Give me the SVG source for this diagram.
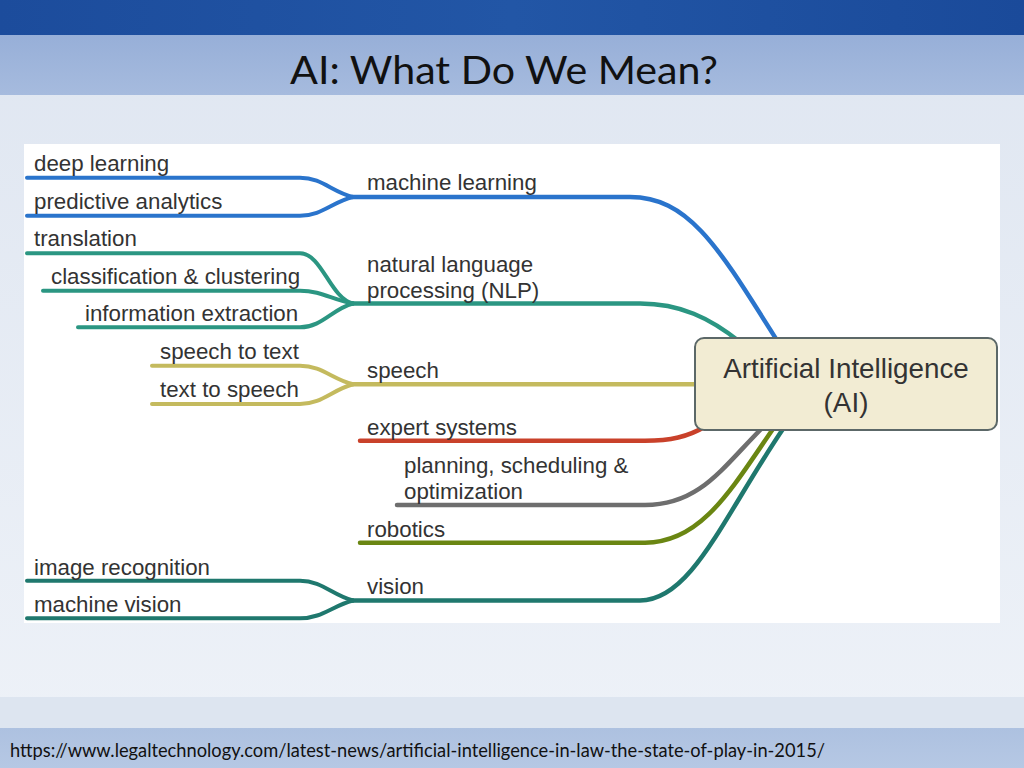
<svg xmlns="http://www.w3.org/2000/svg" width="1024" height="768" viewBox="0 0 1024 768">
<defs>
<linearGradient id="bodyBg" x1="0" y1="0" x2="0" y2="1">
<stop offset="0" stop-color="#dfe6f1"/>
<stop offset="1" stop-color="#eef2f8"/>
</linearGradient>
<linearGradient id="topBand" x1="0" y1="0" x2="1" y2="0">
<stop offset="0" stop-color="#1c4c9c"/>
<stop offset="0.5" stop-color="#2256a6"/>
<stop offset="1" stop-color="#1a4a9a"/>
</linearGradient>
<linearGradient id="titleBand" x1="0" y1="0" x2="0" y2="1">
<stop offset="0" stop-color="#97afd8"/>
<stop offset="1" stop-color="#a6bbde"/>
</linearGradient>
<linearGradient id="footBand" x1="0" y1="0" x2="0" y2="1">
<stop offset="0" stop-color="#adc1e0"/>
<stop offset="1" stop-color="#b6c8e4"/>
</linearGradient>
</defs>
<style>
.lbl{font-family:"Liberation Sans",Arial,sans-serif;font-size:22.3px;fill:#333333}
.ai{font-family:"Liberation Sans",Arial,sans-serif;font-size:27.8px;fill:#333333;text-anchor:middle}
.ln{fill:none;stroke-linecap:round;stroke-linejoin:round;stroke-width:4}
.mn{stroke-width:4.5}
.ml{stroke:#2a74cc}
.nlp{stroke:#2b9682}
.sp{stroke:#c4ba5e}
.ex{stroke:#c9412a}
.pl{stroke:#6e6e6e}
.rb{stroke:#6a8612}
.vs{stroke:#1f786e}
</style>
<rect x="0" y="0" width="1024" height="768" fill="url(#bodyBg)"/>
<rect x="0" y="0" width="1024" height="35" fill="url(#topBand)"/>
<rect x="0" y="35" width="1024" height="60" fill="url(#titleBand)"/>
<rect x="0" y="697" width="1024" height="31" fill="#dde5f0"/>
<rect x="0" y="728" width="1024" height="40" fill="url(#footBand)"/>
<text x="290" y="84" textLength="428" lengthAdjust="spacingAndGlyphs" font-family="Lato,'Open Sans',sans-serif" font-size="39" fill="#111111">AI: What Do We Mean?</text>
<text x="10" y="757" textLength="815" lengthAdjust="spacingAndGlyphs" font-family="Lato,'Open Sans',sans-serif" font-size="19.5" fill="#111111">https://www.legaltechnology.com/latest-news/artificial-intelligence-in-law-the-state-of-play-in-2015/</text>
<rect x="24" y="144" width="976" height="479" fill="#ffffff"/>

<g id="connectors">
<path class="ln ml" d="M27,177.7 H300 C322,177.7 332,192 353,197"/>
<path class="ln ml" d="M27,215.7 H300 C322,215.7 332,202 353,197"/>
<path class="ln ml mn" d="M352,197 H630 C690,197 720,250 778,342"/>
<path class="ln nlp" d="M27,253.3 H300 C322,253.3 330,298 353,303.5"/>
<path class="ln nlp" d="M43,290.7 H300 C322,290.7 332,300 353,303.5"/>
<path class="ln nlp" d="M78,327.3 H300 C322,327.3 332,309 353,303.5"/>
<path class="ln nlp mn" d="M352,303.5 H640 C680,303.5 710,318 740,342"/>
<path class="ln sp" d="M152,365.7 H300 C322,365.7 332,379 353,384.3"/>
<path class="ln sp" d="M152,404 H300 C322,404 332,390 353,384.3"/>
<path class="ln sp mn" d="M352,384.3 H700"/>
<path class="ln ex mn" d="M360,440.7 H645 C670,440.7 688,437 706,426"/>
<path class="ln pl mn" d="M397,505 H645 C700,505 722,468 764,426"/>
<path class="ln rb mn" d="M360,542.7 H645 C702,542.7 732,488 775,426"/>
<path class="ln vs" d="M27,580.7 H300 C322,580.7 332,595 353,600.5"/>
<path class="ln vs" d="M27,618.3 H300 C322,618.3 332,606 353,600.5"/>
<path class="ln vs mn" d="M352,600.5 H640 C692,600.5 724,515 785,426"/>
</g>

<g id="ai">
<rect x="695" y="338" width="302" height="92" rx="9" ry="9" fill="#f2ecd3" stroke="#5c6868" stroke-width="2"/>
<text class="ai" x="846" y="378">Artificial Intelligence</text>
<text class="ai" x="846" y="412">(AI)</text>
</g>

<g id="n-ml"><text class="lbl" x="367" y="190">machine learning</text></g>
<g id="n-deep"><text class="lbl" x="34" y="171">deep learning</text></g>
<g id="n-pred"><text class="lbl" x="34" y="209">predictive analytics</text></g>
<g id="n-nlp"><text class="lbl" x="367" y="272">natural language</text><text class="lbl" x="367" y="298">processing (NLP)</text></g>
<g id="n-trans"><text class="lbl" x="34" y="246">translation</text></g>
<g id="n-class"><text class="lbl" x="51" y="284">classification &amp; clustering</text></g>
<g id="n-info"><text class="lbl" x="85" y="321">information extraction</text></g>
<g id="n-speech"><text class="lbl" x="367" y="378">speech</text></g>
<g id="n-stt"><text class="lbl" x="160" y="359">speech to text</text></g>
<g id="n-tts"><text class="lbl" x="160" y="397">text to speech</text></g>
<g id="n-expert"><text class="lbl" x="367" y="435">expert systems</text></g>
<g id="n-plan"><text class="lbl" x="404" y="473">planning, scheduling &amp;</text><text class="lbl" x="404" y="499">optimization</text></g>
<g id="n-robot"><text class="lbl" x="367" y="537">robotics</text></g>
<g id="n-vision"><text class="lbl" x="367" y="594">vision</text></g>
<g id="n-img"><text class="lbl" x="34" y="575">image recognition</text></g>
<g id="n-mv"><text class="lbl" x="34" y="612">machine vision</text></g>
</svg>
